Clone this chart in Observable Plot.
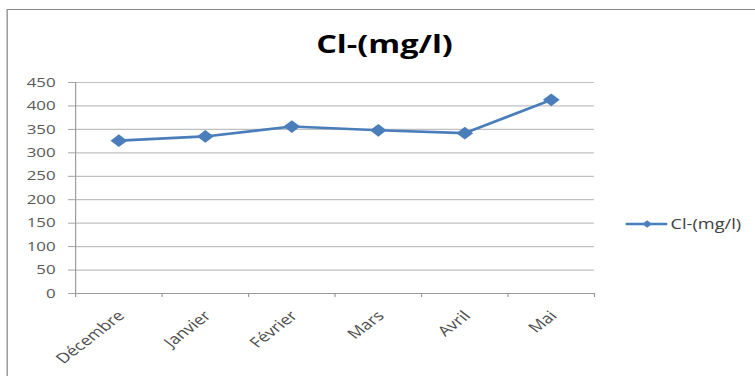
<!DOCTYPE html>
<html><head><meta charset="utf-8">
<script src="https://cdn.jsdelivr.net/npm/d3@7"></script>
<script src="https://cdn.jsdelivr.net/npm/@observablehq/plot@0.6"></script>
<style>
body{margin:0;background:#fff;}
#c{position:relative;width:755px;height:376px;overflow:hidden;background:#fff;}
#inner{position:absolute;left:0;top:0;width:581px;height:376px;transform:scaleX(1.2995);transform-origin:0 0;font-family:"Open Sans",sans-serif;}
#frame{position:absolute;left:5.4px;top:9px;width:700px;height:420px;border:1.3px solid #8a8a8a;box-sizing:border-box;}
#title{position:absolute;left:5.4px;top:31px;width:581px;text-align:center;font-weight:700;font-size:25px;color:#000;line-height:1;}
#legend{position:absolute;left:481px;top:216px;display:flex;align-items:center;font-size:14px;color:#404040;line-height:1;}
#chart{position:absolute;left:0;top:0;}
</style></head><body>
<div id="c"><div id="inner"><div id="frame"></div><div id="title"></div><div id="chart"></div><div id="legend"></div></div></div>
<script>
const seriesName = "Cl-(mg/l)";
const months = ["Décembre","Janvier","Février","Mars","Avril","Mai"];
const clValues = [326, 335, 356, 348, 342, 413];
const yTicks = [0,50,100,150,200,250,300,350,400,450];

const data = months.map((m,i)=>({month:m, pos:i+0.5, value:clValues[i]}));
const boundaries = d3.range(0, months.length+1);
const lineColor = "#4a7ebb";
const axisColor = "#9a9a9a";
const textColor = "#595959";

document.getElementById("title").textContent = seriesName;

const chart = Plot.plot({
  width:581, height:376,
  marginLeft:57.7, marginRight:124, marginTop:82, marginBottom:83,
  style:{fontFamily:"Open Sans", fontSize:"13px", color:textColor, background:"transparent"},
  x:{domain:[0, months.length]},
  y:{domain:[0,450]},
  marks:[
    Plot.gridY(yTicks,{stroke:"#c0c0c0", strokeOpacity:1, strokeWidth:1.2}),
    Plot.ruleX([0],{stroke:axisColor, strokeWidth:0.9}),
    Plot.ruleY([0],{stroke:axisColor, strokeWidth:1.2}),
    Plot.axisY(yTicks,{tickSize:5.4, tickPadding:10, stroke:axisColor, strokeWidth:0.9, fill:textColor, fontSize:13, label:null}),
    Plot.axisX(boundaries,{tickSize:4, tickFormat:()=>"", stroke:axisColor, strokeWidth:0.9, label:null}),
    Plot.text(data,{x:"pos", y:0, text:"month", rotate:-45, textAnchor:"end", lineAnchor:"middle", dx:2, dy:20, fill:"#4d4d4d", fontSize:14}),
    Plot.line(data,{x:"pos", y:"value", stroke:lineColor, strokeWidth:2.6}),
    Plot.dot(data,{x:"pos", y:"value", symbol:d3.symbolDiamond2, r:5.8, fill:lineColor, stroke:"none"})
  ]
});
document.getElementById("chart").appendChild(chart);

// legend
const leg = d3.select("#legend");
const ls = leg.append("svg").attr("width",34).attr("height",16).style("margin-right",1);
ls.append("line").attr("x1",0.5).attr("x2",32.5).attr("y1",8).attr("y2",8).attr("stroke",lineColor).attr("stroke-width",2.6);
ls.append("path").attr("d",d3.symbol(d3.symbolDiamond2, 34)()).attr("transform","translate(17,8)").attr("fill",lineColor);
leg.append("span").text(seriesName);
</script>
</body></html>
